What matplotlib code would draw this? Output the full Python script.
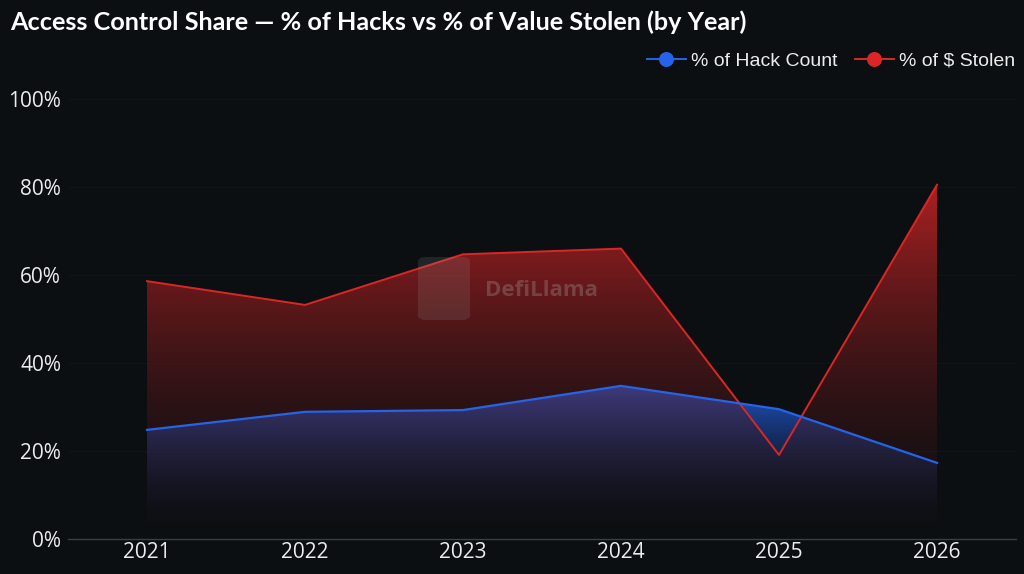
import matplotlib
matplotlib.use("Agg")
import matplotlib.pyplot as plt
import numpy as np
from matplotlib.colors import to_rgb
from matplotlib.lines import Line2D
from matplotlib.patches import FancyBboxPatch

years = ["2021", "2022", "2023", "2024", "2025", "2026"]
hack_count_pct = [24.8, 28.9, 29.3, 34.8, 29.5, 17.3]
stolen_pct = [58.6, 53.2, 64.7, 66.0, 19.1, 80.5]
y_ticks = [0, 20, 40, 60, 80, 100]
y_tick_labels = ["0%", "20%", "40%", "60%", "80%", "100%"]

BG = "#0b0f12"
RED = "#dc2626"
BLUE = "#2563eb"
TXT = "#ececec"

plt.rcParams["font.family"] = ["Open Sans", "DejaVu Sans"]

W, H = 1024, 574
fig = plt.figure(figsize=(W / 100, H / 100), dpi=100, facecolor=BG)
ax = fig.add_axes([68 / W, 35 / H, 948 / W, 440 / H], facecolor=BG)

x = np.arange(len(years))


def gradient_fill(ax, xs, ys, color, a_top, a_bot, color_pow, zorder):
    poly = ax.fill_between(xs, ys, 0, color="none", lw=0, zorder=zorder)
    ymax = max(ys)
    n = 256
    top = np.array(to_rgb(color))
    bot = np.array(to_rgb(BG))
    t = np.linspace(1, 0, n)  # row 0 is top
    tc = t ** color_pow
    img = np.zeros((n, 1, 4))
    for k in range(3):
        img[:, 0, k] = bot[k] + tc * (top[k] - bot[k])
    img[:, 0, 3] = a_bot + t * (a_top - a_bot)
    im = ax.imshow(img, aspect="auto", extent=[xs[0], xs[-1], 0, ymax],
                   origin="upper", zorder=zorder, interpolation="bilinear")
    path = poly.get_paths()[0]
    im.set_clip_path(path, transform=ax.transData)


gradient_fill(ax, x, hack_count_pct, BLUE, 0.85, 0.0, 1.0, 2)
gradient_fill(ax, x, stolen_pct, RED, 0.78, 0.2, 1.0, 3)

ax.plot(x, stolen_pct, color=RED, lw=1.4, zorder=5)
ax.plot(x, hack_count_pct, color=BLUE, lw=1.6, zorder=6)

ax.set_xlim(-0.5, len(years) - 0.5)
ax.set_ylim(0, 100)
ax.set_xticks(x)
ax.set_xticklabels(years)
ax.set_yticks(y_ticks)
ax.set_yticklabels(y_tick_labels)
ax.tick_params(axis="both", length=0, colors=TXT, labelsize=15)
ax.tick_params(axis="x", pad=2)
ax.tick_params(axis="y", pad=5)
ax.grid(axis="y", color="#0f1417", lw=0.8, zorder=0)
ax.set_axisbelow(True)
for s in ["top", "right", "left"]:
    ax.spines[s].set_visible(False)
ax.spines["bottom"].set_color("#3a3f44")
ax.spines["bottom"].set_linewidth(1.0)

# watermark (DefiLlama)
icon = FancyBboxPatch((418 / W, 1 - 320 / H), 52 / W, 63 / H,
                      boxstyle="round,pad=0,rounding_size=0.008",
                      transform=fig.transFigure, facecolor="#9a9a9a", edgecolor="none",
                      alpha=0.16, zorder=10)
fig.patches.append(icon)
fig.text(485 / W, 1 - 290 / H, "DefiLlama", ha="left", va="center",
         fontsize=16, fontweight="bold", color="#b0b0b0", alpha=0.28,
         family=["Open Sans", "DejaVu Sans"], zorder=10)

fig.text(10 / W, 1 - 22 / H, "Access Control Share \u2014 % of Hacks vs % of Value Stolen (by Year)",
         ha="left", va="center", fontsize=18.2, fontweight="bold", color="white",
         family=["Lato", "DejaVu Sans"])

handles = [
    Line2D([0], [0], color=BLUE, lw=1.4, marker="o", markersize=9.75,
           markerfacecolor=BLUE, markeredgecolor=BLUE),
    Line2D([0], [0], color=RED, lw=1.4, marker="o", markersize=9.75,
           markerfacecolor=RED, markeredgecolor=RED),
]
leg = fig.legend(handles, ["% of Hack Count", "% of $ Stolen"], loc="center right",
                 bbox_to_anchor=(1019 / W, 1 - 61 / H), ncol=2, frameon=False,
                 prop={"family": ["Liberation Sans", "DejaVu Sans"], "size": 14},
                 labelcolor=TXT, handlelength=2.0, handletextpad=0.27,
                 columnspacing=0.9, borderpad=0.2, borderaxespad=0)

fig.savefig("out.png", dpi=100, facecolor=BG)
